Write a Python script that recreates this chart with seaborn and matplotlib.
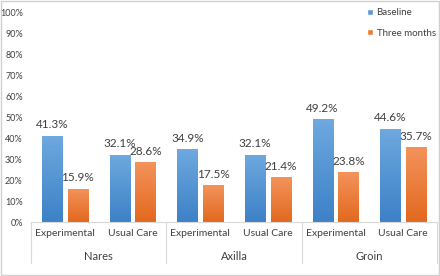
import pandas as pd
import numpy as np
import matplotlib.pyplot as plt
from matplotlib.colors import LinearSegmentedColormap
import seaborn as sns

# values (percent)
sites = ['Nares', 'Nares', 'Axilla', 'Axilla', 'Groin', 'Groin']
arms = ['Experimental', 'Usual Care'] * 3
baseline = [41.3, 32.1, 34.9, 32.1, 49.2, 44.6]
three_months = [15.9, 28.6, 17.5, 21.4, 23.8, 35.7]
series = ['Baseline', 'Three months']
yticks = list(range(0, 101, 10))

sns.set_style('white')
plt.rcParams['font.family'] = ['Lato', 'DejaVu Sans']

cats = [s + ' ' + a for s, a in zip(sites, arms)]
df = pd.DataFrame({
    'cat': cats * 2,
    'value': baseline + three_months,
    'series': [series[0]] * 6 + [series[1]] * 6,
})

txt = '#404040'
fig = plt.figure(figsize=(4.4, 2.76), dpi=100)
ax = fig.add_axes([31 / 440, 54 / 276, 406 / 440, 209 / 276])

sns.barplot(data=df, x='cat', y='value', hue='series', order=cats,
            hue_order=series, palette=['#5B9BD5', '#ED7D31'],
            width=0.76, gap=0.22, saturation=1, ax=ax)

# excel-like vertical gradient, lighter at the top
grads = [('#3D81C7', '#6EA9DF'), ('#E2691F', '#F3935B')]
for c, (lo, hi) in zip(ax.containers, grads):
    cmap = LinearSegmentedColormap.from_list('g', [lo, hi])
    for p in c.patches:
        x0, y0 = p.get_x(), p.get_y()
        w, hgt = p.get_width(), p.get_height()
        im = ax.imshow(np.linspace(0, 1, 64).reshape(-1, 1), cmap=cmap,
                       origin='lower', aspect='auto',
                       extent=(x0, x0 + w, y0, y0 + hgt), zorder=p.get_zorder() + 0.1)
        im.set_clip_path(p)
    ax.bar_label(c, fmt='%.1f%%', padding=4, fontsize=8.5, color=txt)

ax.set_xlim(-0.5, 5.5)
ax.set_ylim(0, 100)
ax.set_yticks(yticks)
ax.set_yticklabels([f'{t}%' for t in yticks])
ax.set_xticks(range(len(cats)))
ax.set_xticklabels(arms)
ax.tick_params(axis='y', length=0, pad=6, labelsize=6.5, labelcolor=txt)
ax.tick_params(axis='x', length=0, pad=5, labelsize=7.5, labelcolor=txt)
ax.set_xlabel('')
ax.set_ylabel('')
for s in ['top', 'right', 'left']:
    ax.spines[s].set_visible(False)
ax.spines['bottom'].set_color('#D9D9D9')

# group labels and separators under the axis
tr = ax.get_xaxis_transform()
for i, g in enumerate(['Nares', 'Axilla', 'Groin']):
    ax.text(2 * i + 0.5, -0.167, g, transform=tr, ha='center', va='center',
            fontsize=8, color=txt)
for xb in [-0.5, 1.5, 3.5, 5.5]:
    ax.plot([xb, xb], [0, -0.196], transform=tr, color='#D9D9D9', lw=0.8,
            clip_on=False)

h, l = ax.get_legend_handles_labels()
ax.legend(h, l, loc='upper left', bbox_to_anchor=(0.825, 0.985),
          bbox_transform=fig.transFigure, frameon=False, fontsize=7,
          handlelength=0.6, handleheight=0.6, handletextpad=0.4,
          labelspacing=1.2, borderaxespad=0, labelcolor=txt)

fig.patches.append(plt.Rectangle((0.002, 0.004), 0.996, 0.992,
                                 transform=fig.transFigure, fill=False,
                                 edgecolor='#D0D0D0', lw=1))

fig.savefig('out.png', dpi=100)
